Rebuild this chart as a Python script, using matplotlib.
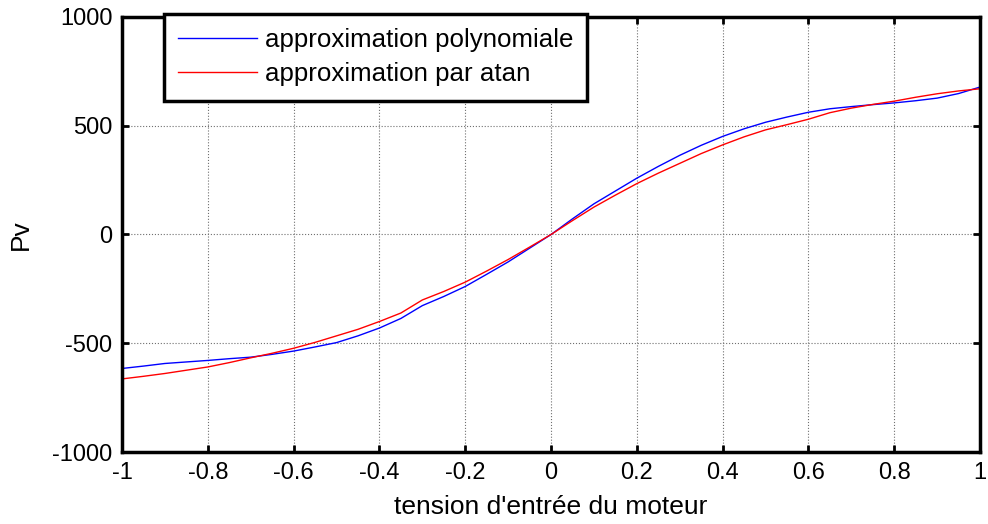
import numpy as np
import matplotlib
matplotlib.use('Agg')
import matplotlib.pyplot as plt

# valeurs (pas de 0.05)
tension = [-1.0, -0.95, -0.9, -0.85, -0.8, -0.75, -0.7, -0.65, -0.6, -0.55, -0.5,
           -0.45, -0.4, -0.35, -0.3, -0.25, -0.2, -0.15, -0.1, -0.05, 0.0,
           0.05, 0.1, 0.15, 0.2, 0.25, 0.3, 0.35, 0.4, 0.45, 0.5,
           0.55, 0.6, 0.65, 0.7, 0.75, 0.8, 0.85, 0.9, 0.95, 1.0]
pv_poly = [-616, -605, -593, -586, -579, -571, -564, -551, -536, -517, -497,
           -466, -430, -386, -327, -285, -239, -183, -126, -63, 0,
           72, 141, 200, 259, 313, 364, 410, 451, 486, 516,
           540, 562, 578, 588, 597, 605, 615, 627, 648, 678]
pv_atan = [-664, -652, -639, -624, -609, -589, -567, -546, -523, -496, -466,
           -436, -400, -361, -301, -262, -219, -168, -115, -58, 0,
           64, 126, 181, 234, 282, 327, 372, 412, 449, 481,
           505, 530, 560, 581, 598, 613, 631, 647, 660, 670]

plt.rcParams['font.family'] = ['Liberation Sans', 'DejaVu Sans']
plt.rcParams['axes.unicode_minus'] = False

fig = plt.figure(figsize=(9.88, 5.24), dpi=100)
ax = fig.add_axes([0.1235, 0.1374, 0.8685, 0.8302])

ax.plot(tension, pv_poly, color='blue', lw=1.0, label='approximation polynomiale')
ax.plot(tension, pv_atan, color='red', lw=1.0, label='approximation par atan')

ax.set_xlim(-1, 1)
ax.set_ylim(-1000, 1000)
ax.set_xticks(np.arange(-1, 1.01, 0.2))
ax.set_xticklabels(['-1', '-0.8', '-0.6', '-0.4', '-0.2', '0', '0.2', '0.4', '0.6', '0.8', '1'])
ax.set_yticks([-1000, -500, 0, 500, 1000])
ax.grid(True, color='#707070', linestyle=':', linewidth=0.8)
ax.tick_params(direction='in', length=5, width=2, top=True, right=True, pad=7,
               labelsize=17)
for s in ax.spines.values():
    s.set_linewidth(2.5)

ax.set_xlabel("tension d'entrée du moteur", fontsize=19, labelpad=8)
ax.set_ylabel('Pv', fontsize=19, labelpad=14)

leg = ax.legend(loc='upper left', bbox_to_anchor=(0.049, 1.007), borderaxespad=0,
                fancybox=False, framealpha=1, edgecolor='black', handlelength=3.05,
                fontsize=18.6, borderpad=0.55, labelspacing=0.4, handletextpad=0.3)
leg.get_frame().set_linewidth(2.5)

fig.savefig('out.png', dpi=100)
